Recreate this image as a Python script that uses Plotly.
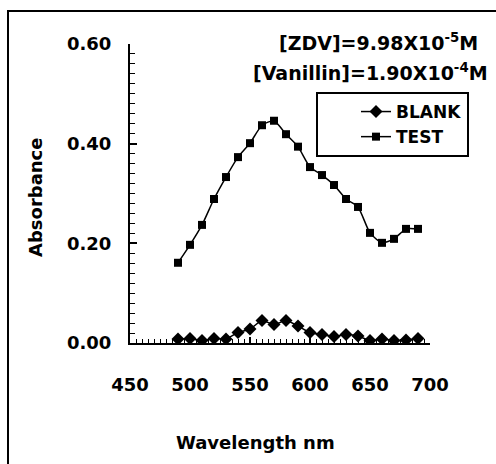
import plotly.graph_objects as go

wavelength = [490, 500, 510, 520, 530, 540, 550, 560, 570, 580, 590,
              600, 610, 620, 630, 640, 650, 660, 670, 680, 690]
blank = [0.008, 0.009, 0.005, 0.009, 0.008, 0.021, 0.028, 0.045, 0.037, 0.045, 0.034,
         0.021, 0.017, 0.013, 0.017, 0.014, 0.005, 0.008, 0.005, 0.006, 0.009]
test = [0.161, 0.197, 0.237, 0.289, 0.333, 0.373, 0.401, 0.437, 0.446, 0.419, 0.394,
        0.353, 0.337, 0.317, 0.289, 0.273, 0.221, 0.201, 0.209, 0.229, 0.229]
x_ticks = [450, 500, 550, 600, 650, 700]
y_ticks = [0.0, 0.2, 0.4, 0.6]

FONT = "DejaVu Sans"
fig = go.Figure()
fig.add_trace(go.Scatter(x=wavelength, y=blank, name="BLANK", mode="lines+markers",
                         line=dict(color="black", width=1.5, shape="spline", smoothing=0.6),
                         marker=dict(symbol="diamond", size=10, color="black")))
fig.add_trace(go.Scatter(x=wavelength, y=test, name="TEST", mode="lines+markers",
                         line=dict(color="black", width=1.5, shape="spline", smoothing=0.6),
                         marker=dict(symbol="square", size=8, color="black")))

L, R, T, B = 130, 430, 44, 343
W, H = 496, 464

def px(x):
    return (x - L) / (R - L)

def py(y):
    return (B - y) / (B - T)

fig.update_layout(
    width=W, height=H, autosize=False,
    margin=dict(l=L, r=W - R, t=T, b=H - B, pad=0),
    paper_bgcolor="white", plot_bgcolor="white",
    font=dict(family=FONT, size=18, color="black", weight="bold"),
    showlegend=True,
    legend=dict(x=px(316), y=py(92), xanchor="left", yanchor="top",
                bordercolor="black", borderwidth=2, bgcolor="white",
                font=dict(family=FONT, size=17, color="black", weight="bold"),
                indentation=38, tracegroupgap=0),
)
fig.update_xaxes(range=[450, 700], tickvals=x_ticks, ticktext=[str(v) for v in x_ticks],
                 showgrid=False, zeroline=False, showline=True, linecolor="black", linewidth=2,
                 ticks="inside", ticklen=6, tickwidth=1.5, tickcolor="black",
                 minor=dict(dtick=5, ticks="inside", ticklen=4, tickwidth=1, tickcolor="black"),
                 tickfont=dict(family=FONT, size=18, color="black", weight="bold"),
                 ticklabelstandoff=24, automargin=False)
fig.update_yaxes(range=[0, 0.6], tickvals=y_ticks, ticktext=[f"{v:.2f}" for v in y_ticks],
                 showgrid=False, zeroline=False, showline=True, linecolor="black", linewidth=2,
                 ticks="inside", ticklen=7, tickwidth=1.5, tickcolor="black",
                 minor=dict(dtick=0.02, ticks="inside", ticklen=5, tickwidth=1, tickcolor="black"),
                 tickfont=dict(family=FONT, size=18, color="black", weight="bold"),
                 ticklabelstandoff=13, automargin=False)

annots = [
    dict(text="Absorbance", x=px(35), y=py(197), textangle=-90, size=18),
    dict(text="Wavelength nm", x=px(255), y=py(442), size=18),
    dict(text="[ZDV]=9.98X10<sup>-5</sup>M", x=px(378), y=py(42), size=19),
    dict(text="[Vanillin]=1.90X10<sup>-4</sup>M", x=px(370), y=py(72), size=19),
]
for a in annots:
    size = a.pop("size")
    fig.add_annotation(xref="paper", yref="paper", xanchor="center", yanchor="middle",
                       showarrow=False,
                       font=dict(family=FONT, size=size, color="black", weight="bold"), **a)

fig.add_shape(type="rect", xref="paper", yref="paper",
              x0=px(8), x1=px(520), y0=py(490), y1=py(11),
              line=dict(color="black", width=2), layer="above")

fig.write_html("out.html", config={"displayModeBar": False},
               post_script="document.body.style.margin='0';document.body.style.overflow='hidden';")
